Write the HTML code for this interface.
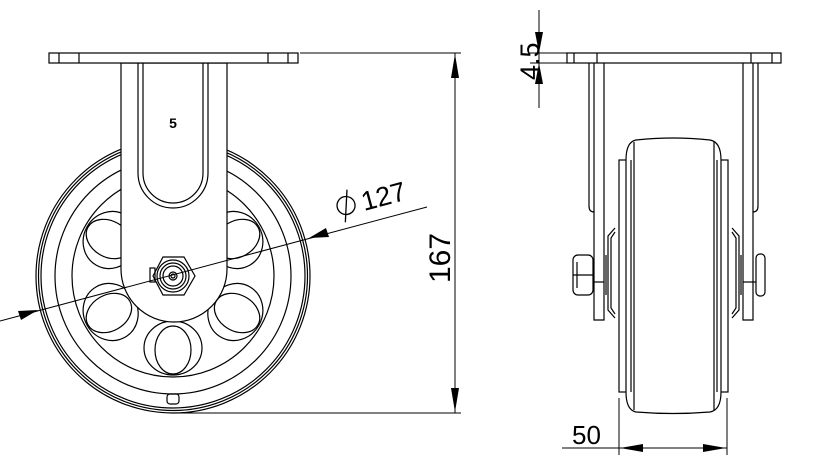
<!DOCTYPE html>
<html><head><style>
html,body{margin:0;padding:0;background:#fff;}
svg{display:block;}
text{font-family:"Liberation Sans",sans-serif;fill:#000;}
</style></head><body>
<svg width="824" height="465" viewBox="0 0 824 465" xmlns="http://www.w3.org/2000/svg">
<g fill="none" stroke="#000" stroke-width="1.2">
<circle cx="173" cy="276" r="137"/>
<circle cx="173" cy="276" r="134.5"/>
<circle cx="173" cy="276" r="132"/>
<circle cx="173" cy="276" r="118"/>
<circle cx="173" cy="276" r="101"/>
<g id="sp">
<ellipse cx="173" cy="348" rx="29" ry="27"/>
<ellipse cx="173" cy="350" rx="18" ry="24"/>
</g>
<use href="#sp" transform="rotate(60 173 276)"/>
<use href="#sp" transform="rotate(-60 173 276)"/>
<use href="#sp" transform="rotate(120 173 276)"/>
<use href="#sp" transform="rotate(-120 173 276)"/>
<rect x="167" y="394" width="12" height="10" rx="3"/>
<path d="M121,63 L121,269 A52,52 0 0 0 227,269 L227,63 Z" fill="#fff"/>
<path d="M138,63 L138,173 A35,35 0 0 0 208,173 L208,63"/>
<path d="M143,63 L143,173 A30,30 0 0 0 203,173 L203,63"/>
<rect x="49" y="53" width="249" height="10" fill="#fff"/>
<line x1="59" y1="53" x2="59" y2="63"/><line x1="79" y1="53" x2="79" y2="63"/>
<line x1="268" y1="53" x2="268" y2="63"/><line x1="288" y1="53" x2="288" y2="63"/>
<polygon points="153,276 163,257 184,257 195,276 184,295 163,295" fill="#fff"/>
<rect x="150" y="268" width="5" height="14"/>
<circle cx="173" cy="276" r="16"/>
<circle cx="173" cy="276" r="13"/>
<circle cx="173" cy="276" r="10"/>
<circle cx="173" cy="276" r="4"/>
<circle cx="173" cy="276" r="2"/>
</g>
<text x="173" y="128" font-size="14" font-weight="bold" text-anchor="middle">5</text>
<g stroke="#000" stroke-width="1">
<line x1="0" y1="321" x2="427" y2="207"/>
</g>
<polygon points="38,310 18,311 21,320" fill="#000"/>
<polygon points="309,238 329,237 326,228" fill="#000"/>
<g transform="translate(338,218) rotate(-15)">
<circle cx="11" cy="-10" r="9" fill="none" stroke="#000" stroke-width="1.3"/>
<line x1="16" y1="-25" x2="6" y2="6" stroke="#000" stroke-width="1.3"/>
<text x="27" y="0" font-size="27">127</text>
</g>
<g stroke="#000" stroke-width="1">
<line x1="300" y1="53" x2="461" y2="53"/>
<line x1="180" y1="413" x2="461" y2="413"/>
<line x1="455" y1="53" x2="455" y2="413"/>
</g>
<polygon points="455,54 451,78 459,78" fill="#000"/>
<polygon points="455,412 451,388 459,388" fill="#000"/>
<text transform="translate(450,283) rotate(-90)" font-size="30">167</text>

<g fill="none" stroke="#000" stroke-width="1.2">
<rect x="567" y="53" width="214" height="10"/>
<line x1="574" y1="53" x2="574" y2="63"/><line x1="597" y1="53" x2="597" y2="63"/>
<line x1="751" y1="53" x2="751" y2="63"/><line x1="772" y1="53" x2="772" y2="63"/>
<path d="M589,63 L589,206 Q589,212 594,212 L594,320 L604,320 L604,63"/>
<line x1="594" y1="63" x2="594" y2="212"/>
<path d="M758,63 L758,206 Q758,212 753,212 L753,320 L743,320 L743,63"/>
<line x1="753" y1="63" x2="753" y2="212"/>
<rect x="619" y="160" width="109" height="232"/>
<path d="M615,228 L608,236 L608,310 L615,318"/>
<path d="M615,232 L611,238 L611,308 L615,314"/>
<path d="M732,228 L739,236 L739,310 L732,318"/>
<path d="M732,232 L736,238 L736,308 L732,314"/>
<line x1="606" y1="255" x2="606" y2="295"/>
<line x1="741" y1="255" x2="741" y2="295"/>
<rect x="573" y="255" width="20" height="40" rx="5"/>
<line x1="577" y1="262" x2="577" y2="288"/>
<line x1="573" y1="275" x2="593" y2="275"/>
<line x1="593" y1="282" x2="604" y2="282"/>
<rect x="756" y="254" width="9" height="42" rx="4"/>
<line x1="743" y1="282" x2="756" y2="282"/>
<path d="M636,140 Q673,136 710,140 Q721,142 721,160 L721,392 Q721,410 710,412 Q673,415 636,412 Q626,410 626,392 L626,160 Q626,142 636,140 Z" fill="#fff"/>
<line x1="634" y1="142" x2="634" y2="410"/>
<line x1="714" y1="142" x2="714" y2="410"/>
<line x1="631" y1="160" x2="631" y2="392"/>
<line x1="717" y1="160" x2="717" y2="392"/>
</g>
<g stroke="#000" stroke-width="1">
<line x1="539" y1="10" x2="539" y2="108"/>
<line x1="530" y1="53" x2="567" y2="53"/>
<line x1="530" y1="63" x2="567" y2="63"/>
</g>
<polygon points="539,53 535,32 543,32" fill="#000"/>
<polygon points="539,63 535,84 543,84" fill="#000"/>
<text transform="translate(539,80) rotate(-90)" font-size="27">4.5</text>
<g stroke="#000" stroke-width="1">
<line x1="619" y1="398" x2="619" y2="455"/>
<line x1="727" y1="398" x2="727" y2="455"/>
<line x1="562" y1="448" x2="727" y2="448"/>
</g>
<polygon points="620,448 643,444 643,452" fill="#000"/>
<polygon points="726,448 703,444 703,452" fill="#000"/>
<text x="572" y="444" font-size="26">50</text>
</svg>
</body></html>
